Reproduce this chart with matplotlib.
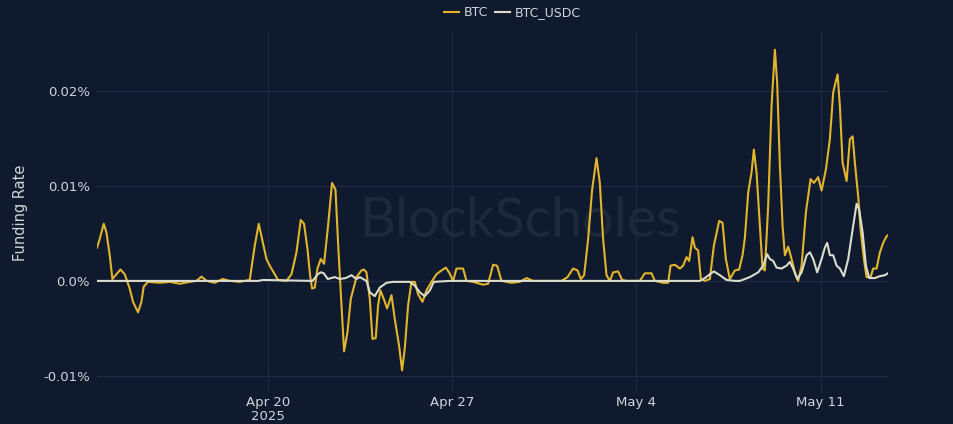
import matplotlib
matplotlib.use("Agg")
import matplotlib.pyplot as plt
import numpy as np
import pandas as pd
from matplotlib.ticker import FuncFormatter

# day offsets from 2025-04-13 00:00, funding rate in percent
btc_days = [0.517, 0.619, 0.771, 0.874, 0.999, 1.101, 1.253, 1.405, 1.569, 1.656, 1.758, 1.884,
            2.074, 2.203, 2.290, 2.453, 2.898, 3.278, 3.657, 4.037, 4.292, 4.482, 4.683, 4.987,
            5.291, 5.557, 5.937, 6.316, 6.506, 6.658, 6.783, 6.950, 7.076, 7.266, 7.391, 7.710,
            7.900, 8.090, 8.253, 8.378, 8.507, 8.606, 8.682, 8.785, 8.887, 9.013, 9.138, 9.290,
            9.442, 9.571, 9.670, 9.772, 9.898, 10.027, 10.152, 10.368, 10.558, 10.646, 10.748,
            10.874, 10.976, 11.101, 11.189, 11.280, 11.405, 11.531, 11.698, 11.823, 11.986, 12.100,
            12.203, 12.328, 12.457, 12.583, 12.708, 12.875, 13.027, 13.217, 13.407, 13.597, 13.760,
            13.885, 14.037, 14.166, 14.417, 14.546, 14.797, 15.177, 15.367, 15.557, 15.708, 15.875,
            16.255, 16.570, 16.825, 17.076, 17.520, 18.154, 18.382, 18.595, 18.762, 18.888, 19.013,
            19.165, 19.317, 19.483, 19.609, 19.734, 19.863, 19.989, 20.114, 20.304, 20.456, 20.623,
            21.128, 21.318, 21.572, 21.698, 22.013, 22.203, 22.294, 22.458, 22.648, 22.773, 22.902,
            23.001, 23.130, 23.217, 23.342, 23.445, 23.597, 23.787, 23.939, 24.140, 24.269, 24.394,
            24.546, 24.736, 24.899, 25.028, 25.116, 25.243, 25.370, 25.458, 25.560, 25.686, 25.788,
            25.876, 26.001, 26.130, 26.256, 26.343, 26.446, 26.548, 26.636, 26.761, 26.890, 27.015,
            27.141, 27.270, 27.433, 27.611, 27.737, 27.900, 28.029, 28.192, 28.344, 28.470, 28.572,
            28.637, 28.724, 28.827, 28.979, 29.104, 29.207, 29.294, 29.419, 29.510, 29.636, 29.738,
            29.890, 29.989, 30.118, 30.243, 30.369, 30.498, 30.547]
btc_rate = [0.0035, 0.0044, 0.0060, 0.0051, 0.0027, 0.0002, 0.0007, 0.0012, 0.0007, 0.0000, -0.0008, -0.0022,
            -0.0033, -0.0022, -0.0006, -0.0001, -0.0002, -0.0001, -0.0003, -0.0001, 0.0000, 0.00045, 0.0000, -0.0002,
            0.0002, 0.0000, -0.0001, 0.0001, 0.0037, 0.0060, 0.0044, 0.0023, 0.0016, 0.0007, 0.0001, 0.0000,
            0.0007, 0.0030, 0.0064, 0.0060, 0.0034, 0.0006, -0.0008, -0.0007, 0.0013, 0.0023, 0.0018, 0.0058,
            0.0103, 0.0096, 0.0040, -0.0012, -0.0074, -0.0054, -0.0019, 0.0004, 0.0011, 0.0012, 0.0009,
            -0.0019, -0.0061, -0.0060, -0.0026, -0.0010, -0.0019, -0.0029, -0.0015, -0.0040, -0.0068, -0.0094,
            -0.0071, -0.0026, -0.0001, -0.0001, -0.0014, -0.0022, -0.0010, -0.0001, 0.0007, 0.0011, 0.0014,
            0.0009, 0.0000, 0.0013, 0.0013, 0.0000, -0.0001, -0.0004, -0.0003, 0.0017, 0.0016, 0.0000,
            -0.0002, -0.0001, 0.0003, 0.0000, 0.0000, 0.0000, 0.0004, 0.0013, 0.0011, 0.0002, 0.0006,
            0.0044, 0.0096, 0.0129, 0.0103, 0.0044, 0.0006, 0.0000, 0.0009, 0.0010, 0.0001, 0.0000,
            0.0000, 0.0008, 0.0008, 0.0000, -0.0002, -0.0002, 0.0016, 0.0017, 0.0013, 0.0016, 0.0025,
            0.0021, 0.0046, 0.0035, 0.0032, 0.0002, 0.0000, 0.0002, 0.0037, 0.0063, 0.0061, 0.0023,
            0.0002, 0.0011, 0.0012, 0.0027, 0.0045, 0.0093, 0.0114, 0.0138, 0.0114, 0.0058, 0.0013,
            0.0011, 0.0079, 0.0184, 0.0243, 0.0208, 0.0121, 0.0058, 0.0027, 0.0036, 0.0023, 0.0009,
            0.0000, 0.0016, 0.0072, 0.0107, 0.0103, 0.0109, 0.0095, 0.0117, 0.0149, 0.0198, 0.0210,
            0.0217, 0.0184, 0.0124, 0.0105, 0.0149, 0.0152, 0.0124, 0.0089, 0.0054, 0.0023, 0.0004,
            0.0004, 0.0013, 0.0013, 0.0030, 0.0040, 0.0047, 0.0048]

usdc_days = [0.517, 6.650, 6.800, 8.700, 8.899, 9.013, 9.127, 9.278, 9.544, 9.734, 9.962, 10.178,
             10.368, 10.494, 10.748, 10.874, 11.063, 11.253, 11.508, 11.758, 12.393, 12.583, 12.773,
             12.963, 13.153, 13.305, 13.912, 19.609, 23.407, 23.597, 23.787, 23.939, 24.167, 24.421,
             24.736, 24.926, 25.306, 25.621, 25.811, 25.963, 26.066, 26.191, 26.320, 26.510, 26.700,
             26.825, 26.951, 27.103, 27.270, 27.460, 27.586, 27.711, 27.863, 28.029, 28.154, 28.242,
             28.344, 28.470, 28.599, 28.724, 28.876, 29.040, 29.230, 29.359, 29.457, 29.587, 29.712,
             29.837, 30.054, 30.243, 30.433, 30.547]
usdc_rate = [0.0000, 0.0000, 0.0001, 0.0000, 0.0007, 0.0009, 0.0008, 0.0002, 0.0004, 0.0002, 0.0003, 0.0006,
             0.0002, 0.0004, 0.0000, -0.0012, -0.0016, -0.0007, -0.0002, -0.0001, -0.0001, -0.0005, -0.0012,
             -0.0016, -0.0010, -0.0001, 0.0000, 0.0000, 0.0000, 0.0003, 0.0007, 0.0010, 0.0006, 0.0001,
             0.0000, 0.0000, 0.0004, 0.0009, 0.0016, 0.0028, 0.0023, 0.0021, 0.0014, 0.0013, 0.0016,
             0.0020, 0.0013, 0.0002, 0.0009, 0.0027, 0.0030, 0.0023, 0.0009, 0.0023, 0.0035, 0.0040,
             0.0027, 0.0027, 0.0016, 0.0013, 0.0005, 0.0023, 0.0058, 0.0081, 0.0075, 0.0051, 0.0016,
             0.0003, 0.0003, 0.0005, 0.0006, 0.0008]

tick_dates = ["2025-04-20", "2025-04-27", "2025-05-04", "2025-05-11"]
tick_labels = ["Apr 20\n2025", "Apr 27", "May 4", "May 11"]
y_ticks = [-0.01, 0.0, 0.01, 0.02]

start = pd.Timestamp("2025-04-13")
btc_t = start + pd.to_timedelta(btc_days, unit="D")
usdc_t = start + pd.to_timedelta(usdc_days, unit="D")

BG = "#101a2e"
GRID = "#1f2b46"
TXT = "#d0d4dc"

fig = plt.figure(figsize=(9.54, 4.24), dpi=100, facecolor=BG)
ax = fig.add_axes([0.1017, 0.072, 0.829, 0.853], facecolor=BG)

# faint watermark
ax.text(0.535, 0.475, "BlockScholes", transform=ax.transAxes, ha="center", va="center",
        fontsize=40, color="#1e283b", family=["Lato", "DejaVu Sans"], zorder=0)

ax.plot(btc_t, btc_rate, color="#e2b52c", lw=1.5, label="BTC", zorder=3, solid_joinstyle="round")
ax.plot(usdc_t, usdc_rate, color="#dcdccc", lw=1.5, label="BTC_USDC", zorder=4, solid_joinstyle="round")

ax.set_xlim(btc_t[0], btc_t[-1])
ax.set_ylim(-0.01183, 0.02618)
ax.set_xticks(pd.to_datetime(tick_dates))
ax.set_xticklabels(tick_labels, linespacing=1.05)
ax.set_yticks(y_ticks)
ax.yaxis.set_major_formatter(FuncFormatter(lambda v, p: "0.0%" if abs(v) < 1e-9 else f"{v:.2f}%"))
ax.grid(True, color=GRID, lw=0.8)
ax.set_axisbelow(True)
for s in ax.spines.values():
    s.set_visible(False)
ax.tick_params(length=0, colors=TXT, labelsize=9.5)
ax.tick_params(axis="x", pad=2)
ax.tick_params(axis="y", pad=5)
ax.set_ylabel("Funding Rate", color=TXT, fontsize=10.5, labelpad=11)

fig.legend(loc="upper center", bbox_to_anchor=(0.537, 1.012), ncol=2, frameon=False,
           handlelength=1.2, handletextpad=0.35, columnspacing=0.6, fontsize=9, labelcolor=TXT)

fig.savefig("out.png", dpi=100, facecolor=BG)
